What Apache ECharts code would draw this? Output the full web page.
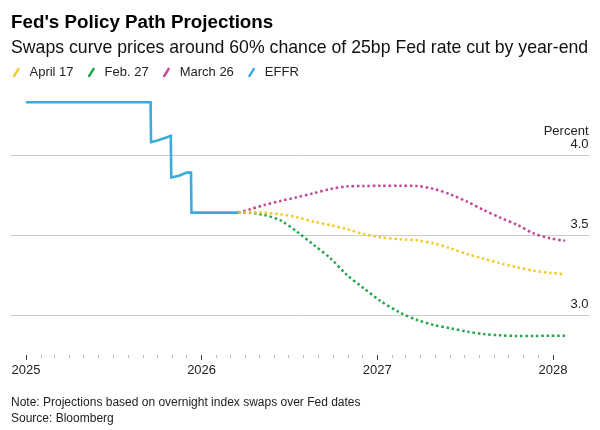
<!DOCTYPE html>
<html><head><meta charset="utf-8">
<script src="https://cdn.jsdelivr.net/npm/echarts@6/dist/echarts.min.js"></script>
<style>html,body{margin:0;padding:0;background:#fff}#c{width:600px;height:430px}</style>
</head><body><div id="c"></div>
<script>
// ---- data ----
const effrDates  = ['2025-01-01','2025-09-17','2025-09-18','2025-10-01','2025-10-10','2025-10-20','2025-10-29','2025-10-30','2025-11-15','2025-12-01','2025-12-10','2025-12-11','2026-03-18'];
const effrValues = [4.33, 4.33, 4.08, 4.09, 4.10, 4.11, 4.12, 3.86, 3.87, 3.89, 3.89, 3.64, 3.64];

const projDates = ['2026-03-18','2026-04-12','2026-05-10','2026-06-14','2026-07-18','2026-08-22','2026-09-26','2026-10-30','2026-12-04','2027-01-07','2027-02-18','2027-03-25','2027-04-28','2027-06-02','2027-07-07','2027-08-10','2027-09-14','2027-10-19','2027-11-22','2027-12-27','2028-01-26'];
const april17  = [3.64, 3.642, 3.639, 3.629, 3.611, 3.583, 3.561, 3.536, 3.506, 3.486, 3.473, 3.467, 3.448, 3.417, 3.381, 3.352, 3.323, 3.298, 3.277, 3.263, 3.254];
const feb27    = [3.64, 3.639, 3.626, 3.591, 3.521, 3.438, 3.354, 3.25, 3.167, 3.089, 3.014, 2.969, 2.938, 2.917, 2.896, 2.881, 2.873, 2.869, 2.869, 2.871, 2.871];
const march26  = [3.64, 3.661, 3.686, 3.713, 3.736, 3.761, 3.788, 3.804, 3.806, 3.808, 3.808, 3.806, 3.788, 3.754, 3.708, 3.656, 3.608, 3.563, 3.51, 3.479, 3.464];

const seriesNames = ['April 17', 'Feb. 27', 'March 26', 'EFFR'];
const yearTicks = ['2025-01-01','2026-01-01','2027-01-01','2028-01-01'];
const yLabelValues = [3.0, 3.5, 4.0];
const axisStart = '2024-12-01', axisEnd = '2028-03-17';

// ---- helpers ----
function ts(s){ const p = s.split('-').map(Number); return Date.UTC(p[0], p[1]-1, p[2]); }
function zip(d, v){ return d.map((x,i)=>[ts(x), v[i]]); }
const monthTicks = [];
for (let y = 2025; y <= 2027; y++) for (let m = 1; m < 12; m++) monthTicks.push(Date.UTC(y, m, 1));

const FONT = '"Liberation Sans", Arial, sans-serif';
const colors = { 'April 17':'#f3c928', 'Feb. 27':'#1ea84c', 'March 26':'#c4449c', 'EFFR':'#38acdc' };

const chart = echarts.init(document.getElementById('c'), null, {renderer:'canvas'});
const dotted = { width: 2.5, type: [2.5, 2.8], cap: 'butt' };

chart.setOption({
  animation: false,
  backgroundColor: '#fff',
  textStyle: { fontFamily: FONT },
  title: [
    { text: "Fed's Policy Path Projections", left: 11, top: 13, padding: 0,
      textStyle: { fontFamily: FONT, fontSize: 18.8, fontWeight: 'bold', color: '#000', lineHeight: 19 } },
    { text: 'Swaps curve prices around 60% chance of 25bp Fed rate cut by year-end', left: 11, top: 39.5, padding: 0,
      textStyle: { fontFamily: FONT, fontSize: 17.7, fontWeight: 'normal', color: '#111', lineHeight: 18 } },
    { text: 'Note: Projections based on overnight index swaps over Fed dates', left: 11, top: 397, padding: 0,
      textStyle: { fontFamily: FONT, fontSize: 12, fontWeight: 'normal', color: '#222', lineHeight: 12 } },
    { text: 'Source: Bloomberg', left: 11, top: 413, padding: 0,
      textStyle: { fontFamily: FONT, fontSize: 12, fontWeight: 'normal', color: '#222', lineHeight: 12 } }
  ],
  legend: {
    data: seriesNames, left: 12.5, top: 66, padding: 0,
    itemWidth: 7.5, itemHeight: 10, itemGap: 14,
    icon: 'path://M5.4,0 L7.5,1.3 L2.1,10 L0,8.7 Z',
    textStyle: { fontFamily: FONT, fontSize: 13, color: '#222', padding: [0,0,0,4.5] },
    selectedMode: false
  },
  grid: { left: 11, right: 10.5, top: 75, bottom: 35, containLabel: false },
  xAxis: [
    { type: 'value', min: ts(axisStart), max: ts(axisEnd), position: 'bottom', offset: -40, scale: true,
      axisLine: { show: false }, splitLine: { show: false },
      axisTick: { show: true, length: 5, customValues: yearTicks.map(ts), lineStyle: { color: '#333', width: 1 } },
      axisLabel: { show: true, customValues: yearTicks.map(ts), margin: 9, fontSize: 13, color: '#222', fontFamily: FONT,
        formatter: v => String(new Date(v).getUTCFullYear()) } },
    { type: 'value', min: ts(axisStart), max: ts(axisEnd), position: 'bottom', offset: -40, scale: true,
      axisLine: { show: false }, splitLine: { show: false }, axisLabel: { show: false },
      axisTick: { show: true, length: 3, customValues: monthTicks, lineStyle: { color: '#bbbbbb', width: 1 } } }
  ],
  yAxis: {
    type: 'value', position: 'right', min: 2.5, max: 4.5, interval: 0.5,
    axisLine: { show: false }, axisTick: { show: false },
    splitLine: { show: true, showMinLine: false, showMaxLine: false, lineStyle: { color: '#cccccc', width: 1 } },
    axisLabel: { inside: true, margin: 1, verticalAlign: 'bottom', align: 'right', lineHeight: 13, padding: [0,0,4,0],
      fontSize: 13, color: '#222', fontFamily: FONT,
      formatter: v => (Math.abs(v-4) < 1e-9 ? 'Percent\n4.0' : (yLabelValues.some(t => Math.abs(t-v) < 1e-9) ? v.toFixed(1) : '')) }
  },
  series: [
    { name: 'EFFR', type: 'line', xAxisIndex: 0, data: zip(effrDates, effrValues), showSymbol: false, symbol: 'none',
      color: colors['EFFR'], lineStyle: { width: 2.6, color: colors['EFFR'], join: 'miter' }, z: 2 },
    { name: 'Feb. 27', type: 'line', xAxisIndex: 0, data: zip(projDates, feb27), showSymbol: false, symbol: 'none', smooth: 0.3,
      color: colors['Feb. 27'], lineStyle: Object.assign({ color: colors['Feb. 27'] }, dotted), z: 3 },
    { name: 'March 26', type: 'line', xAxisIndex: 0, data: zip(projDates, march26), showSymbol: false, symbol: 'none', smooth: 0.3,
      color: colors['March 26'], lineStyle: Object.assign({ color: colors['March 26'] }, dotted), z: 3 },
    { name: 'April 17', type: 'line', xAxisIndex: 0, data: zip(projDates, april17), showSymbol: false, symbol: 'none', smooth: 0.3,
      color: colors['April 17'], lineStyle: Object.assign({ color: colors['April 17'] }, dotted), z: 4 }
  ]
});
</script></body></html>
